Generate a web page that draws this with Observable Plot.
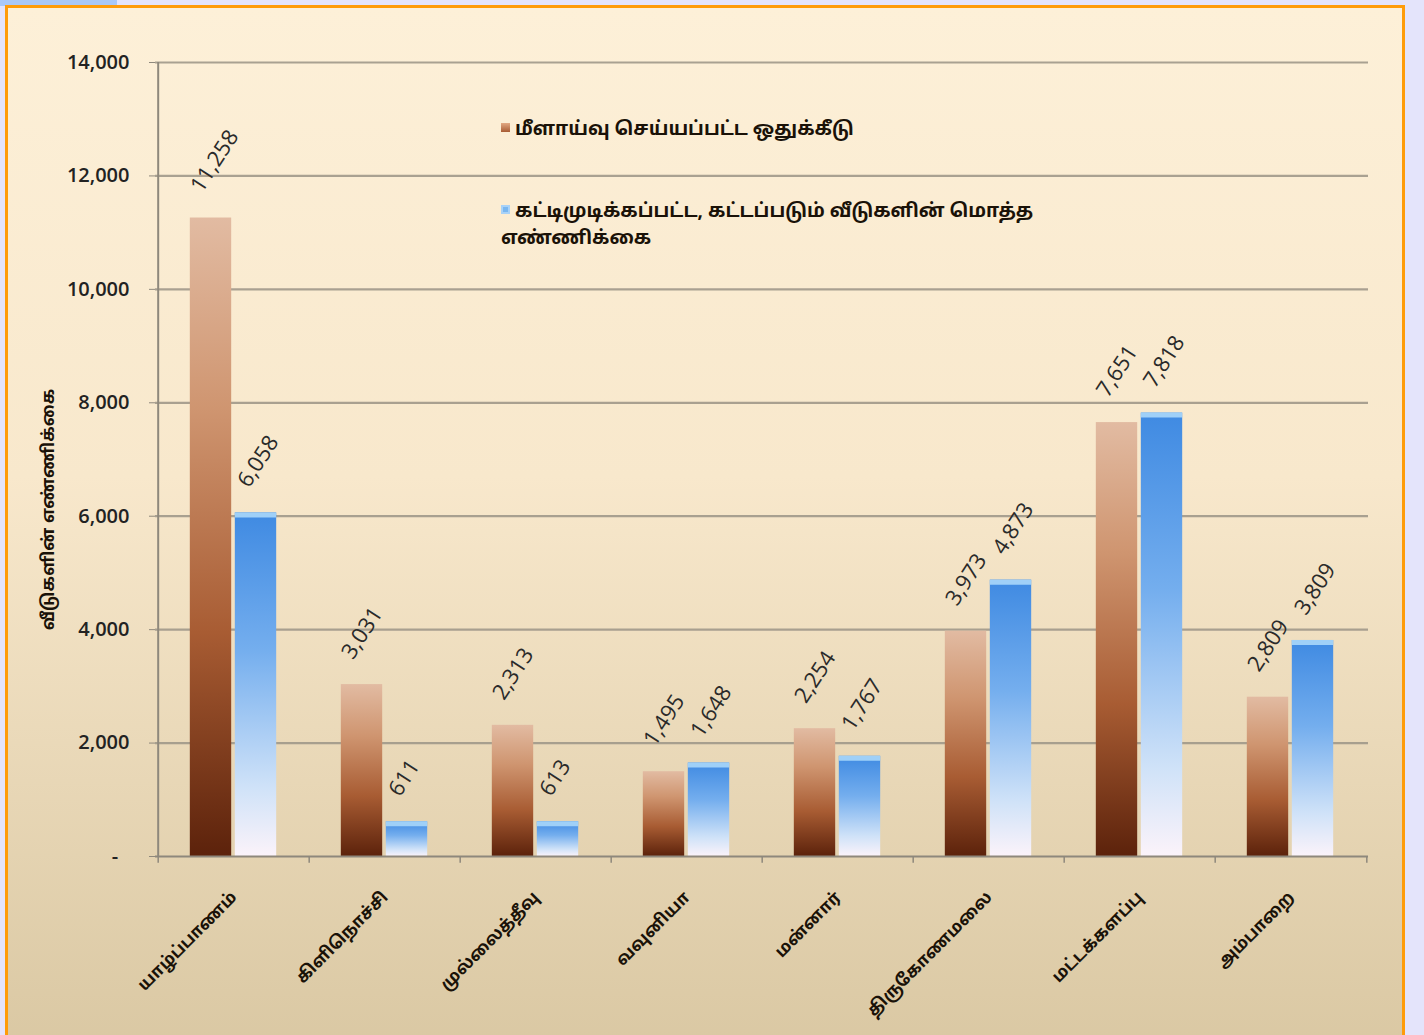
<!DOCTYPE html>
<html>
<head>
<meta charset="utf-8">
<script src="https://cdn.jsdelivr.net/npm/d3@7"></script>
<script src="https://cdn.jsdelivr.net/npm/@observablehq/plot@0.6"></script>
<style>
  html, body { margin: 0; padding: 0; }
  body { width: 1424px; height: 1035px; overflow: hidden; background: #e4e4fb; position: relative;
         font-family: "Noto Sans Tamil", "Noto Sans", "Lohit Tamil", "DejaVu Sans", sans-serif; }
  #strip { position: absolute; left: 0; top: 0; width: 117px; height: 6px; background: #a9c8f8; }
  #frame { position: absolute; left: 5px; top: 5px; width: 1394px; height: 1040px;
           border: 3px solid #ff9c0a; background: linear-gradient(#fdf0d8 0%, #f8e8cc 45%, #dac8a3 100%); }
  #chart { position: absolute; left: 0; top: 0; }
  .legend { position: absolute; font-weight: 700; font-size: 19px; color: #1a1208; line-height: 27px; }
  .legend .sw { display: inline-block; width: 9px; height: 9px; margin-right: 5px; vertical-align: 3px; }
</style>
</head>
<body>
<div id="strip"></div>
<div id="frame">
  <div id="chart"></div>
  <div class="legend" id="leg1" style="left:493px; top:109px;"></div>
  <div class="legend" id="leg2" style="left:493px; top:191px; width:560px;"></div>
</div>
<script>
const districts = ["யாழ்ப்பாணம்", "கிளிநொச்சி", "முல்லைத்தீவு", "வவுனியா", "மன்னார்", "திருகோணமலை", "மட்டக்களப்பு", "அம்பாறை"];
const allocation = [11258, 3031, 2313, 1495, 2254, 3973, 7651, 2809];
const completed = [6058, 611, 613, 1648, 1767, 4873, 7818, 3809];
const seriesNames = ["மீளாய்வு செய்யப்பட்ட ஒதுக்கீடு", "கட்டிமுடிக்கப்பட்ட, கட்டப்படும் வீடுகளின் மொத்த எண்ணிக்கை"];
const yTicks = [0, 2000, 4000, 6000, 8000, 10000, 12000, 14000];
const yLabel = "வீடுகளின் எண்ணிக்கை";

const rowsA = districts.map((d, i) => ({district: d, value: allocation[i]}));
const rowsB = districts.map((d, i) => ({district: d, value: completed[i]}));

const W = 1394, H = 1030, mL = 147, mR = 34, mT = 54, mB = 182;
const bw = (W - mL - mR) / districts.length;
const barW = 43;
const tamil = "'Noto Sans Tamil', 'Noto Sans', 'Lohit Tamil', sans-serif";
const fmt = d => d === 0 ? "-\u2007" : d3.format(",")(d);
const axisColor = "#8e887c";

const plot = Plot.plot({
  width: W, height: H,
  marginLeft: mL, marginRight: mR, marginTop: mT, marginBottom: mB,
  style: {background: "transparent", overflow: "visible"},
  x: {type: "band", domain: districts, paddingInner: 0, paddingOuter: 0},
  y: {domain: [0, 14000]},
  marks: [
    Plot.ruleY(yTicks.slice(1), {stroke: "#a0988a", strokeWidth: 2.2, strokeOpacity: 0.9}),
    Plot.barY(rowsA, {x: "district", y: "value", fill: "url(#gOrange)",
      insetLeft: bw / 2 - barW - 1, insetRight: bw / 2 + 2}),
    Plot.barY(rowsB, {x: "district", y: "value", fill: "url(#gBlue)",
      insetLeft: bw / 2 + 1, insetRight: bw / 2 - barW}),
    Plot.tickY(rowsB, {x: "district", y: "value", stroke: "#9fd0f8", strokeWidth: 5, dy: 2,
      insetLeft: bw / 2 + 1, insetRight: bw / 2 - barW}),
    Plot.ruleY([0], {stroke: axisColor, strokeWidth: 2}),
    Plot.ruleX([districts[0]], {dx: -bw / 2, stroke: axisColor, strokeWidth: 2}),
    Plot.ruleX(districts, {x: d => d, y1: 0, y2: -120, dx: -bw / 2, stroke: axisColor, strokeWidth: 1.5}),
    Plot.ruleX([districts[districts.length - 1]], {y1: 0, y2: -120, dx: bw / 2, stroke: axisColor, strokeWidth: 1.5}),
    Plot.text(rowsA, {x: "district", y: "value", text: d => d3.format(",")(d.value),
      rotate: -57, textAnchor: "start", lineAnchor: "middle", dx: -38, dy: -28,
      fontSize: 22, fill: "#2a2a2a", fontFamily: "'Open Sans', sans-serif"}),
    Plot.text(rowsB, {x: "district", y: "value", text: d => d3.format(",")(d.value),
      rotate: -57, textAnchor: "start", lineAnchor: "middle", dx: 9, dy: -28,
      fontSize: 22, fill: "#2a2a2a", fontFamily: "'Open Sans', sans-serif"}),
    Plot.axisY({ticks: yTicks, tickFormat: fmt, tickSize: 6, tickPadding: 20, stroke: axisColor,
      fontSize: 20, fontWeight: 600, fill: "#222", fontFamily: "'Open Sans', sans-serif",
      label: yLabel, labelAnchor: "center", labelArrow: "none", labelOffset: 114}),
    Plot.axisX({tickSize: 0, tickRotate: -45, tickPadding: 38, fontSize: 17, fontWeight: 700,
      fill: "#1a1208", fontFamily: tamil, label: null})
  ]
});

const defs = d3.select(plot).insert("defs", ":first-child");
const g1 = defs.append("linearGradient").attr("id", "gOrange").attr("x1", 0).attr("y1", 0).attr("x2", 0).attr("y2", 1);
[["0%", "#e2bba2"], ["30%", "#cf9570"], ["65%", "#a85c33"], ["100%", "#5c220b"]].forEach(([o, c]) =>
  g1.append("stop").attr("offset", o).attr("stop-color", c));
const g2 = defs.append("linearGradient").attr("id", "gBlue").attr("x1", 0).attr("y1", 0).attr("x2", 0).attr("y2", 1);
[["0%", "#3f8ae2"], ["40%", "#74aeee"], ["80%", "#cfe2f8"], ["100%", "#fbf3fa"]].forEach(([o, c]) =>
  g2.append("stop").attr("offset", o).attr("stop-color", c));

// y label styling and position
d3.select(plot).selectAll("g[aria-label='y-axis label']").each(function() {
  const g = d3.select(this);
  const t = g.attr("transform") || "";
  g.attr("font-weight", 700).attr("font-size", 17).attr("font-family", tamil).attr("fill", "#1a1208")
   .attr("transform", "translate(0,50) " + t);
});

document.getElementById("chart").appendChild(plot);

document.getElementById("leg1").innerHTML = `<span class="sw" style="background:linear-gradient(#e2a882,#a85c33)"></span>${seriesNames[0]}`;
document.getElementById("leg2").innerHTML = `<span class="sw" style="background:#7ab7f0;box-shadow:inset 0 0 0 2px #a8d2f8"></span>${seriesNames[1]}`;
</script>
</body>
</html>
